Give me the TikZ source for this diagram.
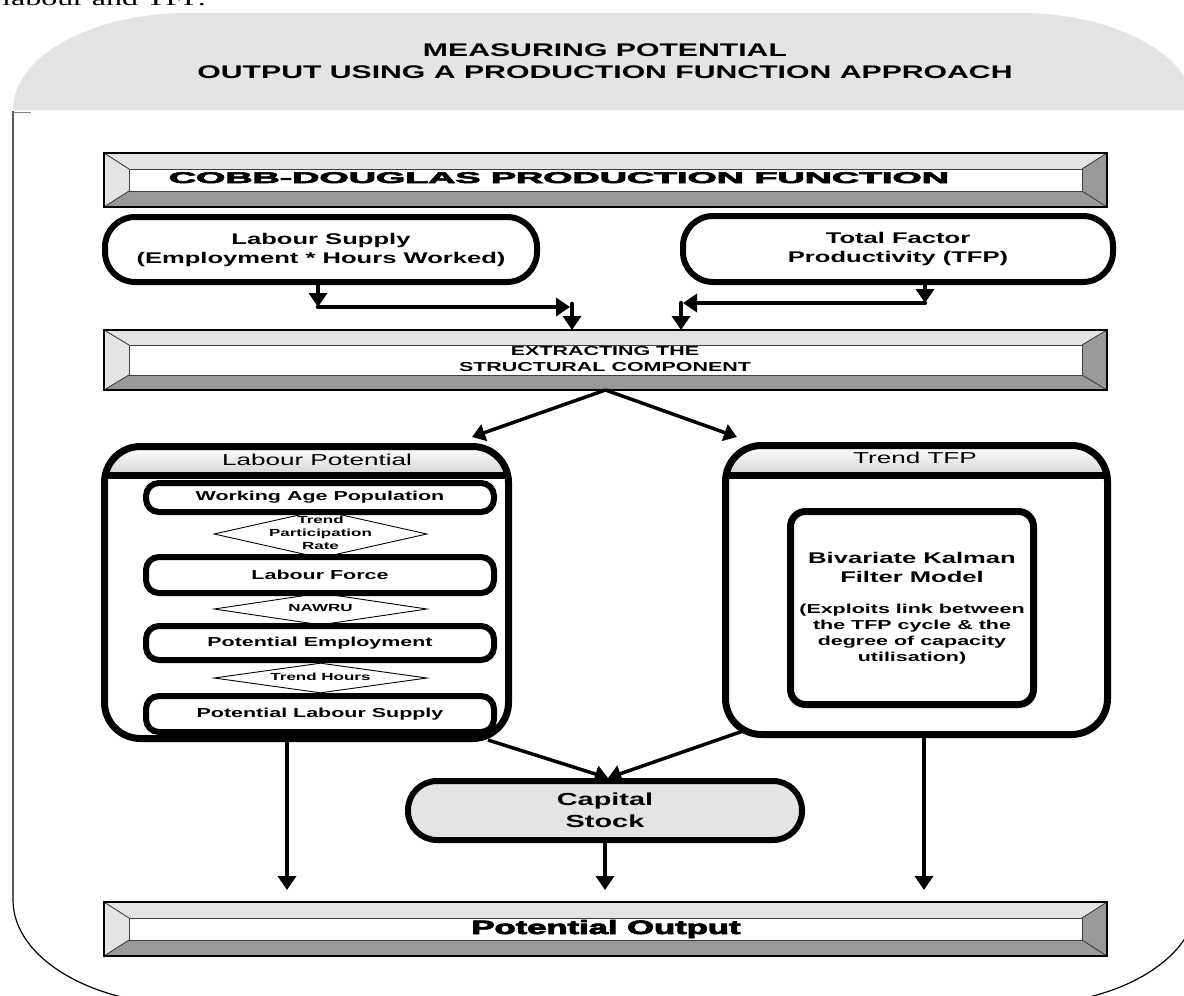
\documentclass[tikz,border=0pt]{standalone}
\usepackage{fontspec}
\usepackage{graphicx}
\setmainfont[FakeStretch=1.65]{Liberation Sans}
\newfontfamily\heavy[BoldFeatures={FakeBold=3.5}]{Liberation Sans}
\newfontfamily\serifst[FakeStretch=1.6]{Liberation Serif}
\usetikzlibrary{arrows.meta,shapes.geometric}
\definecolor{lgray}{HTML}{E4E4E4}
\definecolor{dgray}{HTML}{999999}
\definecolor{edgegray}{HTML}{404040}
\newcommand\bevelbox[7]{%
  \node[bevelnode, minimum width={(#4-#2)*1pt}, minimum height={(#5-#3)*1pt}] (#1) at ({(#2+#4)/2},{(#3+#5)/2}) {};
  \fill[lgray] (#2,#3) -- (#4,#3) -- ({#4-#6},{#3+#7}) -- ({#2+#6},{#3+#7}) -- cycle;
  \fill[lgray] (#2,#3) -- ({#2+#6},{#3+#7}) -- ({#2+#6},{#5-#7}) -- (#2,#5) -- cycle;
  \fill[dgray] (#2,#5) -- ({#2+#6},{#5-#7}) -- ({#4-#6},{#5-#7}) -- (#4,#5) -- cycle;
  \fill[dgray] (#4,#3) -- (#4,#5) -- ({#4-#6},{#5-#7}) -- ({#4-#6},{#3+#7}) -- cycle;
  \draw[bevelline] (#2,#3) -- ({#2+#6},{#3+#7}) (#4,#3) -- ({#4-#6},{#3+#7})
     (#2,#5) -- ({#2+#6},{#5-#7}) (#4,#5) -- ({#4-#6},{#5-#7});
  \draw[bevelline, fill=white] ({#2+#6},{#3+#7}) rectangle ({#4-#6},{#5-#7});
  \draw[line width=1.1pt] (#1.north west) rectangle (#1.south east);
}
\begin{document}
\begin{tikzpicture}[x=1pt,y=-1pt,
  bevelnode/.style={inner sep=0pt, outer sep=0pt},
  bevelline/.style={draw=edgegray, line width=0.9pt},
  arr/.style={line width=4.5pt, -{Triangle[width=18pt,length=14pt]}},
  darr/.style={line width=3.5pt, -{Triangle[width=17pt,length=13pt]}},
  pill/.style={draw, line width=6pt, rounded corners=30pt, fill=white, align=center, inner sep=0pt,
     font=\fontsize{15.5}{19}\selectfont\bfseries},
  ibox/.style={draw, line width=6pt, rounded corners=13pt, fill=white, minimum width=348pt, inner sep=0pt,
     font=\fontsize{13}{15}\selectfont\bfseries},
  dia/.style={diamond, draw, line width=0.9pt, fill=white, inner sep=0pt, minimum width=213pt},
  dtext/.style={font=\fontsize{10.3}{13}\selectfont\bfseries, align=center, inner sep=0pt},
  cont/.style={draw, line width=7pt, rounded corners=36pt, inner sep=0pt},
  ctitle/.style={font=\fontsize{15.8}{19}\selectfont, inner sep=0pt},
  heavytext/.style={inner sep=0pt, anchor=base}
]
\useasboundingbox (0,0) rectangle (1184,996);
\fill[white] (0,0) rectangle (1184,996);

% text of the page above, cut off
\node[font=\serifst\fontsize{20}{24}\selectfont, anchor=base west, inner sep=0pt] (prev) at (2,5) {labour and TFP.};

% header band and frame
\fill[lgray] (13,110) .. controls (13,56.4) and (91,13) .. (188,13) -- (1020,13)
   .. controls (1117,13) and (1195,56.4) .. (1195,110) -- cycle;
\draw[line width=1.2pt] (13,111) -- (13,900) .. controls (13,958) and (92,1005) .. (189,1005)
   -- (1022,1005) .. controls (1119,1005) and (1197,958) .. (1197,900);
\draw[gray, line width=1pt] (13,112) -- (31,112);
\node[font=\fontsize{18.3}{22.5}\selectfont\bfseries, align=center, inner sep=0pt] (title) at (605,61)
  {MEASURING POTENTIAL\\OUTPUT USING A PRODUCTION FUNCTION APPROACH};

% Cobb-Douglas
\bevelbox{cobb}{104}{153}{1107}{207}{25}{16}
\node[heavytext] (cobbt) at (559,183) {\resizebox{780pt}{10.8pt}{\heavy\bfseries COBB-DOUGLAS PRODUCTION FUNCTION}};

% inputs
\node[pill, minimum width=432pt, minimum height=65pt] (ls) at (321,249.5)
  {Labour Supply\\(Employment * Hours Worked)};
\node[pill, minimum width=430pt, minimum height=66pt] (tfp) at (898,249)
  {Total Factor\\Productivity (TFP)};

% extracting
\bevelbox{ext}{104}{330}{1107}{390}{25}{15}
\node[font=\fontsize{13}{16}\selectfont\bfseries, align=center, inner sep=0pt] (extt) at (605,359)
  {EXTRACTING THE\\STRUCTURAL COMPONENT};

% arrows into extracting
\coordinate (j1) at (318,307);
\coordinate (j2) at (570,307);
\coordinate (j3) at (572,304);
\coordinate (k1) at (925,303);
\coordinate (k2) at (683,303);
\coordinate (k3) at (681,303);
\draw[arr] (ls.south -| j1) -- (j1);
\draw[arr, line cap=round] (j1) -- (j2);
\draw[arr, line cap=round] (j3) -- (ext.north -| j3);
\draw[arr] (tfp.south -| k1) -- (k1);
\draw[arr, line cap=round] (k1) -- (k2);
\draw[arr, line cap=round] (k3) -- (ext.north -| k3);

% Labour potential container
\begin{scope}
  \clip[rounded corners=36pt] (104.5,446.5) rectangle (508.5,738.5);
  \shade[top color=white, bottom color=lgray!85!gray] (104.5,446.5) rectangle (508.5,475);
\end{scope}
\draw[line width=7pt] (104.5,475.5) -- (508.5,475.5);
\node[cont, minimum width=404pt, minimum height=292pt] (lp) at (306.5,592.5) {};
\node[ctitle] (lpt) at (317,460) {Labour Potential};

\node[dia, minimum height=48pt] (tpr) at (320.5,534) {};
\node[dtext] (tprt) at (320.5,533) {Trend\\Participation\\Rate};
\node[dia, minimum height=32pt] (naw) at (320.5,609) {};
\node[dtext] (nawt) at (320.5,608) {NAWRU};
\node[dia, minimum height=30pt] (thr) at (320.5,678) {};
\node[dtext] (thrt) at (320.5,677) {Trend Hours};

\node[ibox, minimum height=29pt] (wap) at (320,497.5) {Working Age Population};
\node[ibox, minimum height=36pt] (lf) at (320,575) {Labour Force};
\node[ibox, minimum height=34pt] (pe) at (320,643) {Potential Employment};
\node[ibox, minimum height=36pt] (pls) at (320,714) {Potential Labour Supply};

% Trend TFP container
\begin{scope}
  \clip[rounded corners=36pt] (725.5,445.5) rectangle (1107.5,734.5);
  \shade[top color=white, bottom color=lgray!85!gray] (725.5,445.5) rectangle (1107.5,475);
\end{scope}
\draw[line width=7pt] (725.5,475) -- (1107.5,475);
\node[cont, minimum width=382pt, minimum height=289pt] (tt) at (916.5,590) {};
\node[ctitle] (ttt) at (915,458) {Trend TFP};
\node[draw, line width=7pt, rounded corners=15pt, minimum width=243pt, minimum height=193pt, inner sep=0pt] (kal) at (912,608) {};
\node[font=\fontsize{15.5}{19}\selectfont\bfseries, align=center, inner sep=0pt] (kalt) at (912,567.5)
  {Bivariate Kalman\\Filter Model};
\node[font=\fontsize{13}{16}\selectfont\bfseries, align=center, inner sep=0pt] (kald) at (912,634)
  {(Exploits link between\\the TFP cycle \& the\\degree of capacity\\utilisation)};

% arrows from extracting to containers
\coordinate (e1) at (472,437);
\coordinate (e2) at (737,437);
\draw[darr] (ext.south) -- (e1);
\draw[darr] (ext.south) -- (e2);

% capital stock
\node[pill, fill=lgray, minimum width=394pt, minimum height=59pt, rounded corners=29pt,
  font=\fontsize{17.5}{22}\selectfont\bfseries] (cap) at (605,810.5) {Capital\\Stock};
\coordinate (c1) at (488,740);
\coordinate (c2) at (743,731);
\coordinate (ct) at (608,778);
\draw[darr] (c1) -- (ct);
\draw[darr] (c2) -- (ct);

% Potential output
\bevelbox{po}{104}{902}{1107}{956}{25}{16}
\node[heavytext] (pot) at (606,934) {\resizebox{269pt}{14pt}{\heavy\bfseries Potential Output}};

\coordinate (d1) at (287,890);
\coordinate (d2) at (605,890);
\coordinate (d3) at (924,890);
\draw[arr] (lp.south -| d1) -- (d1);
\draw[arr] (cap.south -| d2) -- (d2);
\draw[arr] (tt.south -| d3) -- (d3);
\end{tikzpicture}
\end{document}
